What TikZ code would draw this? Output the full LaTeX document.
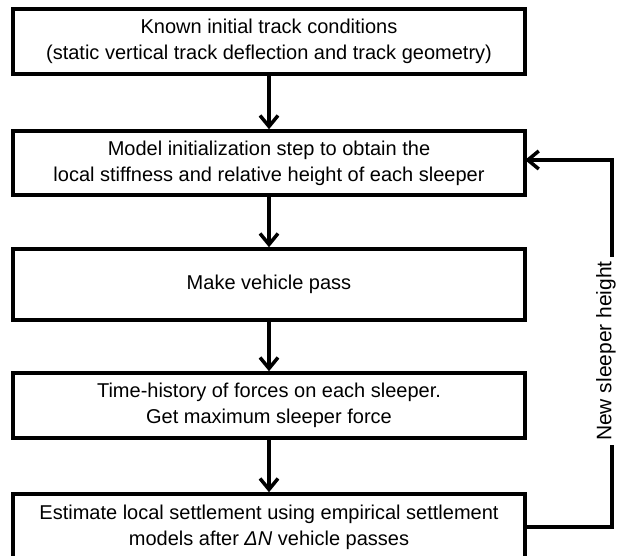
\documentclass[tikz,border=0pt]{standalone}
\usepackage{fontspec}
\setmainfont{Liberation Sans}
\usetikzlibrary{arrows.meta}
\begin{document}
\begin{tikzpicture}[x=1bp,y=-1bp,
  box/.style={draw=black, line width=3.5bp, minimum width=512bp, align=center,
    font=\fontsize{20bp}{26bp}\selectfont, inner sep=0pt},
  flow/.style={line width=3.5bp, -{Straight Barb[length=11bp,width=18bp]}},
  link/.style={line width=3.5bp}]
\useasboundingbox (0,0) rectangle (620,556);
\clip (0,0) rectangle (620,556);
\node[box, minimum height=65bp] (b1) at (269,41.5) {Known initial track conditions\\(static vertical track deflection and track geometry)};
\node[box, minimum height=64bp] (b2) at (269,163) {Model initialization step to obtain the\\local stiffness and relative height of each sleeper};
\node[box, minimum height=71bp] (b3) at (269,284.5) {Make vehicle pass};
\node[box, minimum height=65bp] (b4) at (269,405.5) {Time-history of forces on each sleeper.\\Get maximum sleeper force};
\node[box, minimum height=66bp] (b5) at (269,527) {Estimate local settlement using empirical settlement\\models after \textit{ΔN} vehicle passes};
\node[rotate=90, font=\fontsize{21bp}{26bp}\selectfont, inner xsep=4bp, inner ysep=0pt] (lbl) at (606,351) {New sleeper height};
\coordinate (c1) at (612,527);
\coordinate (c2) at (612,160);
\coordinate (c3) at (525,160);
\draw[flow] (b1) -- (b2);
\draw[flow] (b2) -- (b3);
\draw[flow] (b3) -- (b4);
\draw[flow] (b4) -- (b5);
\draw[link] (b5.east) -- (c1) -- (c1 |- lbl.west);
\draw[flow] (c2 |- lbl.east) -- (c2) -- (c3);
\end{tikzpicture}
\end{document}
